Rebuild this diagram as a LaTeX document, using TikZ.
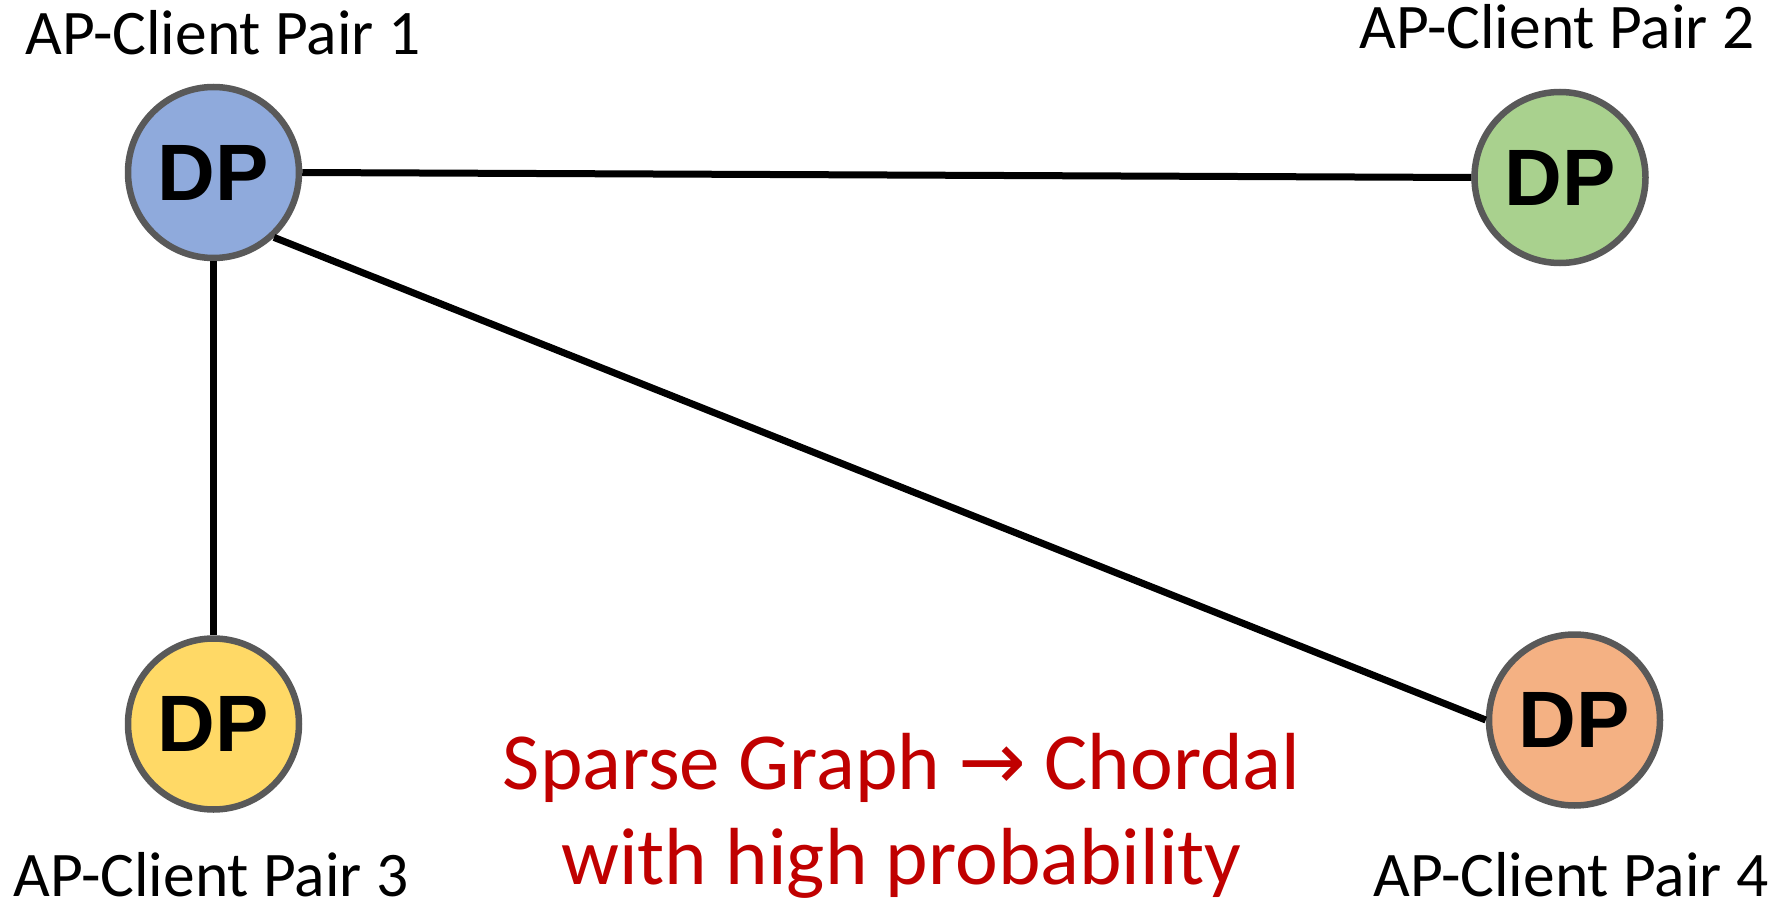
\documentclass[tikz,border=0pt]{standalone}
\usepackage{fontspec}
\setmainfont{Carlito}
\newfontfamily\dpfont{Liberation Sans}
\newfontfamily\symfont{DejaVu Sans}
\definecolor{dpblue}{HTML}{8FAADC}
\definecolor{dpgreen}{HTML}{A9D18E}
\definecolor{dpyellow}{HTML}{FFD966}
\definecolor{dporange}{HTML}{F4B183}
\definecolor{dpborder}{HTML}{595959}
\definecolor{redtext}{HTML}{C00000}
\newcommand{\dptext}{\raisebox{-4pt}{DP}}
\tikzset{
  dpnode/.style={circle, draw=dpborder, line width=6.5pt, minimum size=171pt, inner sep=0pt,
    font=\dpfont\bfseries\fontsize{80}{96}\selectfont},
  pairlabel/.style={anchor=base, inner sep=0pt, font=\fontsize{63.5}{74}\selectfont},
  notetext/.style={anchor=base, inner sep=0pt, text=redtext, font=\fontsize{81}{95}\selectfont},
  edge/.style={line width=7pt, black}
}
\begin{document}
\begin{tikzpicture}[x=1pt, y=-1pt]
\useasboundingbox (0,0) rectangle (1781,904);
\node[dpnode, fill=dpblue]   (n1) at (213.5,172.5) {\dptext};
\node[dpnode, fill=dpgreen]  (n2) at (1560,177.5) {\dptext};
\node[dpnode, fill=dpyellow] (n3) at (213.5,724) {\dptext};
\node[dpnode, fill=dporange] (n4) at (1574.5,720) {\dptext};
\draw[edge] (n1.east) -- (n2.west);
\draw[edge] (n1.south) -- (n3.north);
\draw[edge] (n1.-47) -- (n4.west);
\node[pairlabel] (l1) at (223,55) {AP-Client Pair 1};
\node[pairlabel] (l2) at (1557,49) {AP-Client Pair 2};
\node[pairlabel] (l3) at (211,896) {AP-Client Pair 3};
\node[pairlabel] (l4) at (1571,896) {AP-Client Pair 4};
\node[notetext] (t1) at (901.5,789) {Sparse Graph {\symfont →} Chordal};
\node[notetext] (t2) at (901.5,884) {with high probability};
\end{tikzpicture}
\end{document}
